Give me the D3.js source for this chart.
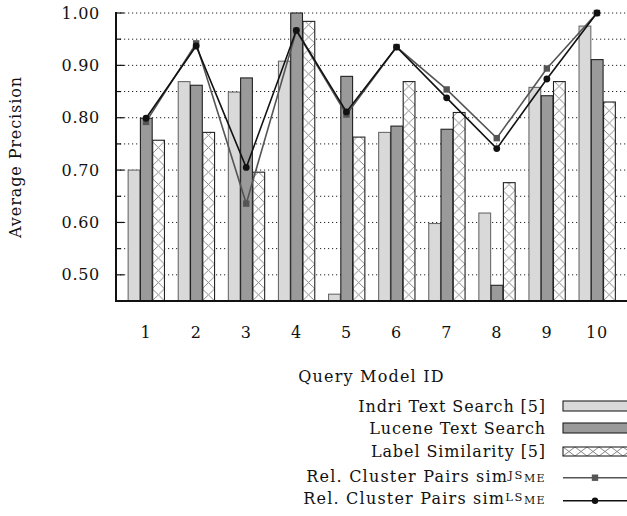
<!DOCTYPE html>
<html><head><meta charset="utf-8">
<script src="https://cdn.jsdelivr.net/npm/d3@7"></script>
<style>
html,body{margin:0;padding:0;background:#fff;}
svg text{font-family:"DejaVu Serif",serif;fill:#111;}
</style></head>
<body><svg id="c" width="627" height="516"></svg>
<script>
const categories = ["1","2","3","4","5","6","7","8","9","10"];
const indri  = [0.700,0.869,0.849,0.908,0.463,0.772,0.598,0.618,0.858,0.975];
const lucene = [0.799,0.862,0.876,1.000,0.879,0.784,0.778,0.480,0.842,0.911];
const labelSim = [0.757,0.772,0.696,0.984,0.763,0.869,0.810,0.676,0.869,0.830];
const clusterJS = [0.792,0.942,0.636,0.966,0.806,0.935,0.854,0.761,0.894,1.000];
const clusterLS = [0.799,0.937,0.705,0.967,0.811,0.935,0.838,0.741,0.874,1.000];
const yLabelTicks = [0.50,0.60,0.70,0.80,0.90,1.00];
const yGridTicks = [0.50,0.55,0.60,0.65,0.70,0.75,0.80,0.85,0.90,0.95,1.00];
const barSeries = ["Indri Text Search [5]","Lucene Text Search","Label Similarity [5]"];

const svg = d3.select("#c");
const L = 116, R = 627, T = 13, B = 301;
const y = d3.scaleLinear().domain([0.45,1.0]).range([B,T]);
const x = d3.scaleBand().domain(categories).range([121,622]).paddingInner(0.265).paddingOuter(0.1325);
const x1 = d3.scaleBand().domain([0,1,2]).range([0,x.bandwidth()]);
const bw = x1.bandwidth();
const LS = "0.7px";

const defs = svg.append("defs");
function hatch(id, px, py, w, h){
  const p = defs.append("pattern").attr("id",id).attr("patternUnits","userSpaceOnUse")
    .attr("x",px).attr("y",py).attr("width",w).attr("height",h);
  p.append("rect").attr("width",w).attr("height",h).attr("fill","#fff");
  p.append("path").attr("d",`M0,0L${w},${h}M${w},0L0,${h}`)
    .attr("stroke","#7a7a7a").attr("stroke-width",0.9).attr("fill","none");
}

// grid
svg.append("g").selectAll("line").data(yGridTicks).join("line")
  .attr("x1",L).attr("x2",R).attr("y1",d=>y(d)).attr("y2",d=>y(d))
  .attr("stroke","#222").attr("stroke-width",1).attr("stroke-dasharray","1.2,2.8");

// bars
const series = [indri, lucene, labelSim];
const styles = [
  {fill:"#d9d9d9", stroke:"#6a6a6a"},
  {fill:"#9a9a9a", stroke:"#222"},
  {fill:null, stroke:"#222"}
];
categories.forEach((c,i)=>{
  hatch("h"+i, x(c)+x1(2), B, bw, bw);
});
const gBars = svg.append("g");
series.forEach((vals,s)=>{
  gBars.selectAll(null).data(vals).join("rect")
    .attr("x",(d,i)=>x(categories[i])+x1(s)+0.5)
    .attr("y",d=>y(d))
    .attr("width",bw-0.5)
    .attr("height",d=>B-y(d))
    .attr("fill",(d,i)=> s===2 ? `url(#h${i})` : styles[s].fill)
    .attr("stroke",styles[s].stroke).attr("stroke-width",1.1);
});

// axes
const yAxis = d3.axisLeft(y).tickValues(yLabelTicks).tickFormat(d3.format(".2f")).tickSize(0).tickPadding(16);
const gy = svg.append("g").attr("transform",`translate(${L},0)`).call(yAxis);
gy.select(".domain").remove();
gy.selectAll("text").attr("font-size",16).attr("font-family","DejaVu Serif").style("letter-spacing",LS).attr("fill","#111");
svg.append("g").selectAll("line").data(yGridTicks).join("line")
  .attr("x1",L).attr("x2",(d,i)=> i%2===0 ? L+8 : L+5)
  .attr("y1",d=>y(d)).attr("y2",d=>y(d)).attr("stroke","#111").attr("stroke-width",1.2);

const xAxis = d3.axisBottom(x).tickSize(0).tickPadding(26);
const gx = svg.append("g").attr("transform",`translate(0,${B})`).call(xAxis);
gx.select(".domain").remove();
gx.selectAll("text").attr("font-size",16).attr("font-family","DejaVu Serif").style("letter-spacing",LS).attr("fill","#111");

svg.append("line").attr("x1",L).attr("x2",L).attr("y1",T-1).attr("y2",B+1).attr("stroke","#111").attr("stroke-width",2);
svg.append("line").attr("x1",L-1).attr("x2",R).attr("y1",B).attr("y2",B).attr("stroke","#111").attr("stroke-width",2);

// lines
const cx = c => x(c)+x.bandwidth()/2;
const line = d3.line().x((d,i)=>cx(categories[i])).y(d=>y(d));
svg.append("path").datum(clusterJS).attr("d",line).attr("fill","none").attr("stroke","#555").attr("stroke-width",1.6);
svg.append("g").selectAll("rect").data(clusterJS).join("rect")
  .attr("x",(d,i)=>cx(categories[i])-3.2).attr("y",d=>y(d)-3.2).attr("width",6.4).attr("height",6.4).attr("fill","#555");
svg.append("path").datum(clusterLS).attr("d",line).attr("fill","none").attr("stroke","#111").attr("stroke-width",1.6);
svg.append("g").selectAll("circle").data(clusterLS).join("circle")
  .attr("cx",(d,i)=>cx(categories[i])).attr("cy",d=>y(d)).attr("r",3.4).attr("fill","#111");

// titles
svg.append("text").attr("transform","rotate(-90)").attr("x",-(T+B)/2).attr("y",21)
  .attr("text-anchor","middle").attr("font-size",16).style("letter-spacing","0.9px").text("Average Precision");
svg.append("text").attr("x",(L+R)/2).attr("y",382).attr("text-anchor","middle").attr("font-size",16)
  .style("letter-spacing","1.2px").text("Query Model ID");

// legend
const lg = svg.append("g");
const tx = 546, sx = 563, sw = 66;
const rowsY = [411.5, 434, 457, 481.5, 504];
barSeries.forEach((name,k)=>{
  lg.append("text").attr("x",tx).attr("y",rowsY[k]).attr("text-anchor","end").attr("font-size",16)
    .style("letter-spacing","0.9px").text(name);
});
lg.append("rect").attr("x",sx).attr("y",401).attr("width",sw).attr("height",10).attr("fill","#d9d9d9").attr("stroke","#222").attr("stroke-width",1.1);
lg.append("rect").attr("x",sx).attr("y",423).attr("width",sw).attr("height",10).attr("fill","#9a9a9a").attr("stroke","#222").attr("stroke-width",1.1);
hatch("hl", sx, 447, 12, 9);
lg.append("rect").attr("x",sx).attr("y",447).attr("width",sw).attr("height",9).attr("fill","url(#hl)").attr("stroke","#222").attr("stroke-width",1.1);

function simLabel(yb, sup){
  const t = lg.append("text").attr("x",tx).attr("y",yb).attr("text-anchor","end").attr("font-size",16).style("letter-spacing","1.2px");
  t.append("tspan").text("Rel. Cluster Pairs sim");
  t.append("tspan").attr("dy",-3).attr("font-size",11.5).style("letter-spacing","1.6px").text(sup);
  t.append("tspan").attr("dy",3).attr("font-size",11).style("letter-spacing","1.4px").text("ME");
}
simLabel(rowsY[3],"JS");
simLabel(rowsY[4],"LS");
lg.append("line").attr("x1",sx).attr("x2",sx+sw).attr("y1",477.7).attr("y2",477.7).attr("stroke","#555").attr("stroke-width",1.6);
lg.append("rect").attr("x",595-3.2).attr("y",477.7-3.2).attr("width",6.4).attr("height",6.4).attr("fill","#555");
lg.append("line").attr("x1",sx).attr("x2",sx+sw).attr("y1",500.7).attr("y2",500.7).attr("stroke","#111").attr("stroke-width",1.6);
lg.append("circle").attr("cx",595).attr("cy",500.7).attr("r",3.2).attr("fill","#111");
</script></body></html>
